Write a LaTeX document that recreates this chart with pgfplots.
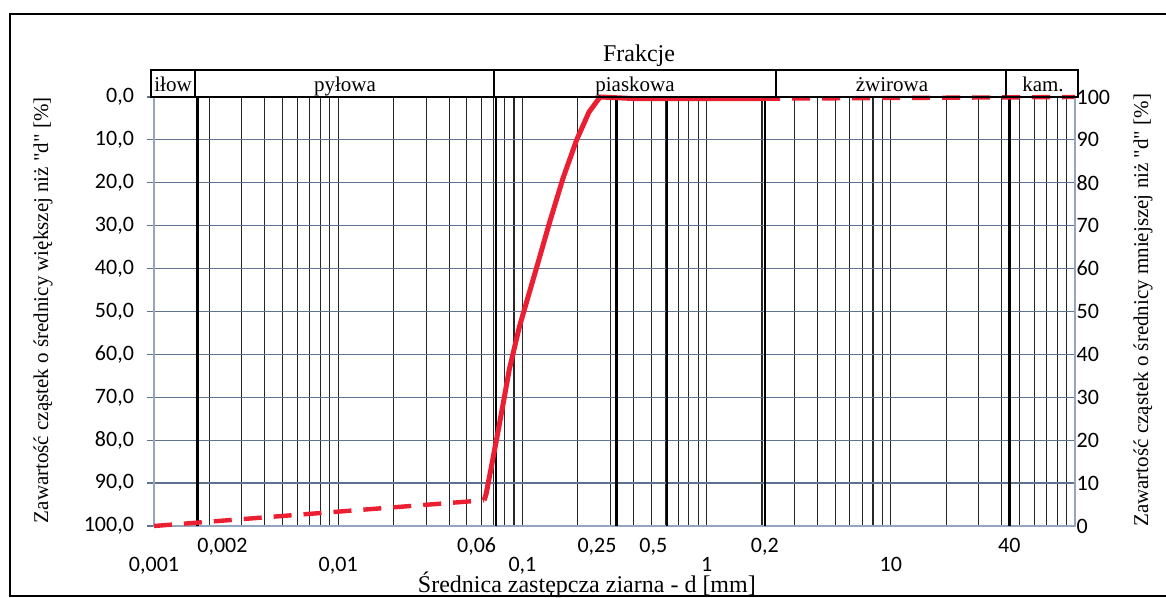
\documentclass[border=0pt]{standalone}
\usepackage{pgfplots}
\pgfplotsset{compat=1.18}
\usepackage{fontspec}
\setmainfont{Liberation Serif}[Ligatures=TeXOff]
\newfontfamily\calibri{Carlito}
\definecolor{gridblue}{RGB}{95,115,145}
\definecolor{axisblue}{RGB}{150,165,190}
\definecolor{curvered}{RGB}{235,30,50}
\begin{document}
\begin{tikzpicture}
\path[use as bounding box] (0,0) rectangle (583pt,299pt);
\begin{axis}[
  at={(77pt,36pt)}, anchor=south west,
  scale only axis, width=460.5pt, height=214.5pt,
  xmode=log, xmin=0.001, xmax=100, ymin=0, ymax=100,
  xtick={0.001,0.01,0.1,1,10,100},
  xticklabels={{0,001},{0,01},{0,1},{1},{10},{}},
  minor xtick={0.002,0.003,0.004,0.005,0.006,0.007,0.008,0.009,
               0.02,0.03,0.04,0.05,0.06,0.07,0.08,0.09,
               0.2,0.3,0.4,0.5,0.6,0.7,0.8,0.9,
               2,3,4,5,6,7,8,9,
               20,30,40,50,60,70,80,90},
  xmajorgrids, xminorgrids, ymajorgrids,
  major x grid style={black!85, line width=0.55pt},
  minor x grid style={black!85, line width=0.55pt},
  major y grid style={gridblue, line width=0.6pt},
  ytick={0,10,...,100},
  yticklabels={{100,0},{90,0},{80,0},{70,0},{60,0},{50,0},{40,0},{30,0},{20,0},{10,0},{0,0}},
  ytick pos=left,
  axis line style={axisblue, line width=0.7pt},
  tick label style={font=\calibri\fontsize{11}{13}\selectfont},
  x tick style={draw=none}, minor x tick style={draw=none},
  y tick style={gridblue, line width=0.6pt},
  tick align=outside, major tick length=3.5pt,
  yticklabel style={xshift=-3pt},
  xticklabel style={yshift=-8.5pt},
  extra x ticks={0.00172,0.072,0.324,0.611,2.07,44},
  extra x tick labels={{\raisebox{-3.5pt}{\rlap{0,002}}},{\llap{0,06}},{\llap{0,25}},{\llap{0,5}},{0,2},{40}},
  extra x tick style={grid=major, major x grid style={black, line width=1.3pt}, xticklabel style={yshift=9.5pt}},
  xlabel={Średnica zastępcza ziarna - d [mm]},
  xlabel style={at={(axis description cs:0.470,-0.137)}, anchor=center, font=\fontsize{12}{14}\selectfont},
  ylabel={Zawartość cząstek o średnicy większej niż "d" [\%]},
  ylabel style={at={(axis description cs:-0.1205,0.503)}, anchor=center, font=\fontsize{10.5}{12}\selectfont},
  clip=false,
]
\addplot[curvered, line width=2.2pt, dash pattern=on 9pt off 6pt] coordinates {(0.001,0) (0.062,6)};
\addplot[curvered, line width=2.5pt, line join=round] coordinates {
 (0.062,6) (0.0636,7.5) (0.068,14) (0.073,21) (0.0798,30) (0.0849,36.5) (0.0964,46.5)
 (0.119,60) (0.141,71) (0.166,81) (0.197,90) (0.23,96.5) (0.264,100) (0.42,99.6) (2.0,99.6)};
\addplot[curvered, line width=2.2pt, dash pattern=on 9pt off 6pt] coordinates {(2.0,99.6) (100,100)};
\end{axis}
\begin{axis}[
  at={(77pt,36pt)}, anchor=south west,
  scale only axis, width=460.5pt, height=214.5pt,
  xmode=log, xmin=0.001, xmax=100, ymin=0, ymax=100,
  axis x line=none, axis y line*=right,
  ytick={0,10,...,100},
  yticklabels={0,10,20,30,40,50,60,70,80,90,100},
  y tick style={draw=none},
  axis line style={axisblue, line width=0.7pt},
  tick label style={font=\calibri\fontsize{11}{13}\selectfont},
  yticklabel style={xshift=-2.7pt},
  ylabel={Zawartość cząstek o średnicy mniejszej niż "d" [\%]},
  ylabel style={at={(axis description cs:1.074,0.503)}, anchor=center, font=\fontsize{10.5}{12}\selectfont},
]
\addplot[draw=none] coordinates {(1,50)};
\end{axis}
\begin{scope}[x=0.5pt, y=-0.5pt, yshift=299pt]
  \draw[line width=1pt] (1166,14) -- (10,14) -- (10,596) -- (1166,596);
  \draw[line width=1.1pt] (151,70) rectangle (195,97);
  \draw[line width=1.1pt] (195,70) rectangle (494,97);
  \draw[line width=1.1pt] (494,70) rectangle (776,97);
  \draw[line width=1.1pt] (776,70) rectangle (1006,97);
  \draw[line width=1.1pt] (1006,70) rectangle (1078,97);
  \draw[line width=1.1pt] (154,97) -- (1078,97);
  \begin{scope}[every node/.style={font=\fontsize{10.5}{12}\selectfont, anchor=base, inner sep=0pt}]
    \node at (173,92) {iłow};
    \node at (345,92) {pyłowa};
    \node at (635,92) {piaskowa};
    \node at (892,92) {żwirowa};
    \node at (1043,92) {kam.};
  \end{scope}
  \node[font=\fontsize{12}{14}\selectfont, anchor=base, inner sep=0pt] at (639,62) {Frakcje};
\end{scope}
\end{tikzpicture}
\end{document}
